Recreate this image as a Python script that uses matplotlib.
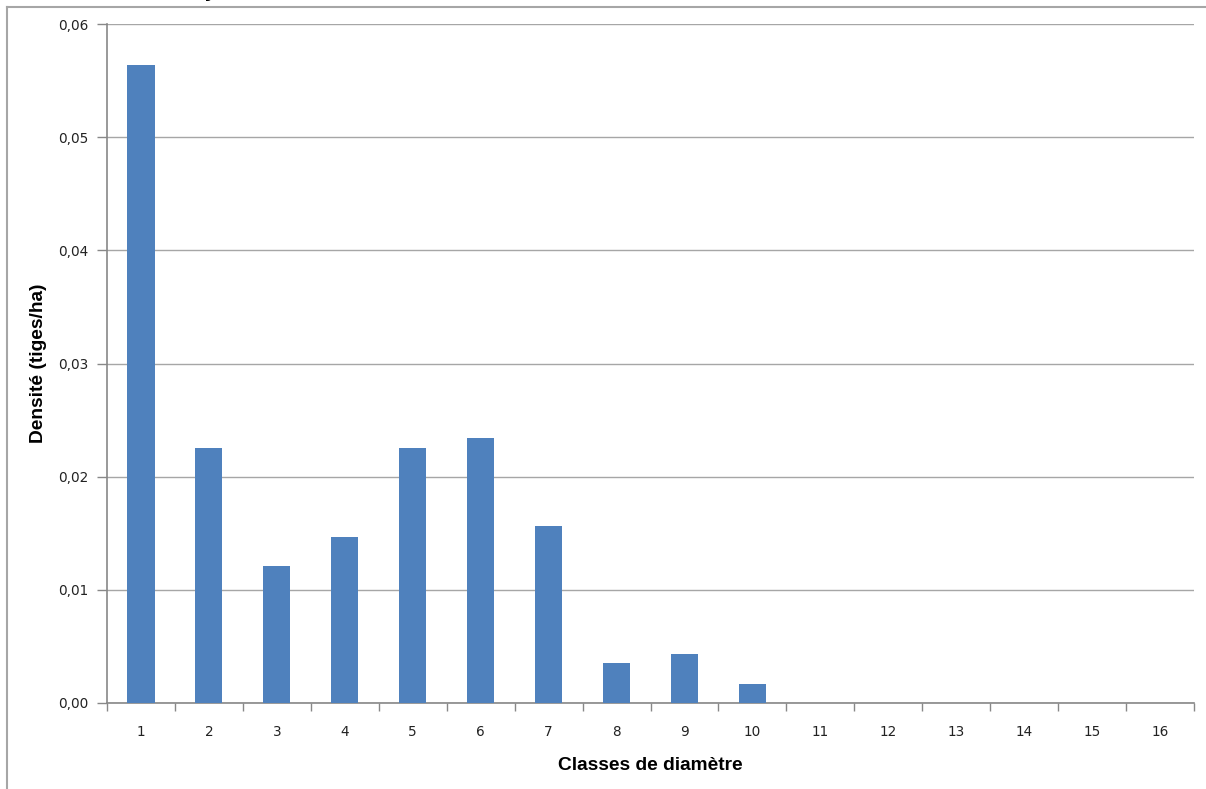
import numpy as np
import matplotlib
matplotlib.use('Agg')
import matplotlib.pyplot as plt
from matplotlib.ticker import FuncFormatter, FixedLocator
from matplotlib.lines import Line2D

# diameter classes and stem density
classes = [str(i) for i in range(1, 17)]
densite = [0.0564, 0.0225, 0.0121, 0.0147, 0.0225, 0.0234, 0.0156, 0.0035,
           0.0043, 0.0017, 0, 0, 0, 0, 0, 0]
y_ticks = [0.0, 0.01, 0.02, 0.03, 0.04, 0.05, 0.06]

plt.rcParams['font.family'] = ['DejaVu Sans']

fig = plt.figure(figsize=(12.06, 7.89), dpi=100)
ax = fig.add_axes([107/1206, 1 - 703/789, (1194-107)/1206, (703-24)/789])

x = np.arange(len(classes))
ax.bar(x, densite, width=0.4, color='#4F81BD', zorder=3)

ax.set_xlim(-0.5, len(classes) - 0.5)
ax.set_ylim(0, 0.06)

ax.yaxis.set_major_locator(FixedLocator(y_ticks))
ax.yaxis.set_major_formatter(FuncFormatter(lambda v, p: ('%.2f' % v).replace('.', ',')))
ax.grid(axis='y', color='#a6a6a6', linewidth=1.0, zorder=0)

ax.set_xticks(x)
ax.set_xticklabels(classes)
ax.xaxis.set_minor_locator(FixedLocator(np.arange(-0.5, len(classes), 1)))
ax.tick_params(axis='x', which='major', length=0, pad=16, labelsize=9.8, labelcolor='#222222')
ax.tick_params(axis='x', which='minor', length=6, color='#888888', width=1)
ax.tick_params(axis='y', length=7, color='#888888', width=1, pad=6.5, labelsize=9.8,
               labelcolor='#222222')

for s in ['top', 'right']:
    ax.spines[s].set_visible(False)
for s in ['left', 'bottom']:
    ax.spines[s].set_color('#888888')
    ax.spines[s].set_linewidth(1.2)

ax.set_xlabel('Classes de diamètre', fontsize=13.8, fontweight='bold',
              fontfamily='Liberation Sans')
ax.set_ylabel('Densité (tiges/ha)', fontsize=13.8, fontweight='bold',
              fontfamily='Liberation Sans')
ax.xaxis.set_label_coords(0.5, -0.079)
ax.yaxis.set_label_coords(-0.055, 0.5)

# outer chart frame (partly cropped)
fig.add_artist(Line2D([7/1206, 7/1206], [0, 1 - 7/789], color='#a6a6a6', lw=1.5,
                      transform=fig.transFigure))
fig.add_artist(Line2D([7/1206, 1], [1 - 7/789, 1 - 7/789], color='#a6a6a6', lw=1.5,
                      transform=fig.transFigure))
# cropped title fragment
fig.text(203/1206, 1 + 4/789, 'y', fontsize=18, ha='left', va='baseline', color='black')

fig.savefig('out.png', dpi=100)
